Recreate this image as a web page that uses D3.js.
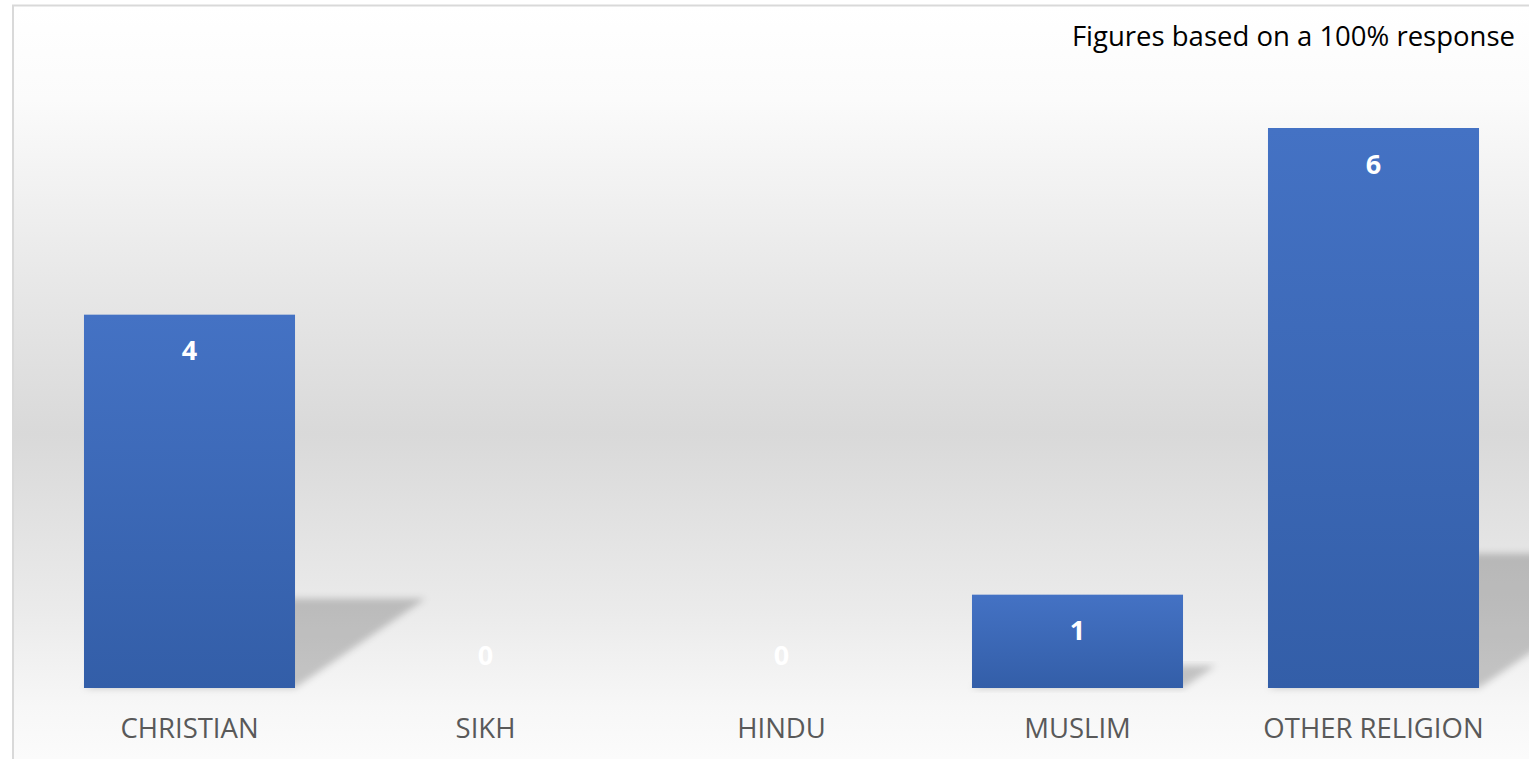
<!DOCTYPE html>
<html>
<head>
<meta charset="utf-8">
<script src="https://cdn.jsdelivr.net/npm/d3@7"></script>
<style>
html,body{margin:0;padding:0;background:#fff;}
svg{display:block;}
</style>
</head>
<body>
<svg id="chart" width="1529" height="759"></svg>
<script>
const categories = ["CHRISTIAN", "SIKH", "HINDU", "MUSLIM", "OTHER RELIGION"];
const values = [4, 0, 0, 1, 6];
const note = "Figures based on a 100% response";

const W = 1529, H = 759;
const svg = d3.select("#chart");
const defs = svg.append("defs");

// background gradient
const bg = defs.append("linearGradient").attr("id","bgGrad")
  .attr("x1",0).attr("y1",0).attr("x2",0).attr("y2",1);
[[0,"#ffffff"],[0.12,"#fbfbfb"],[0.3,"#ececec"],[0.55,"#d9d9d9"],[0.78,"#ebebeb"],[0.9,"#f7f7f7"],[1,"#fdfdfd"]]
  .forEach(([o,c])=>bg.append("stop").attr("offset",o).attr("stop-color",c));

const barGrad = defs.append("linearGradient").attr("id","barGrad")
  .attr("x1",0).attr("y1",0).attr("x2",0).attr("y2",1);
barGrad.append("stop").attr("offset",0).attr("stop-color","#4472c4");
barGrad.append("stop").attr("offset",1).attr("stop-color","#335ea8");

const blur = defs.append("filter").attr("id","shBlur")
  .attr("x","-20%").attr("y","-20%").attr("width","140%").attr("height","140%");
blur.append("feGaussianBlur").attr("stdDeviation",3.5);

// frame
svg.append("rect").attr("x",13).attr("y",5.5).attr("width",W+20).attr("height",H+20)
  .attr("fill","url(#bgGrad)").attr("stroke","#d9d9d9").attr("stroke-width",2);

const x = d3.scaleBand().domain(categories).range([41.5, 1521.5])
  .paddingInner(0.287).paddingOuter(0.1435);
const y = d3.scaleLinear().domain([0, 6]).range([688, 128]);

const data = categories.map((c,i)=>({cat:c, v:values[i]}));

// shadows (perspective)
svg.append("g").selectAll("path").data(data.filter(d=>d.v>0)).join("path")
  .attr("d", d=>{
    const xl = x(d.cat), xr = xl + x.bandwidth(), yb = y(0);
    const h = y(0) - y(d.v);
    const dx = 0.35*h, hs = 0.24*h;
    return `M${xl},${yb}L${xr},${yb}L${xr+dx},${yb-hs}L${xl+dx},${yb-hs}Z`;
  })
  .attr("fill","#000").attr("fill-opacity",0.2).attr("filter","url(#shBlur)");

// bars
svg.append("g").selectAll("rect").data(data).join("rect")
  .attr("x", d=>x(d.cat)).attr("width", x.bandwidth())
  .attr("y", d=>y(d.v)).attr("height", d=>y(0)-y(d.v))
  .attr("fill","url(#barGrad)");

// value labels
svg.append("g").selectAll("text").data(data).join("text")
  .attr("x", d=>x(d.cat)+x.bandwidth()/2)
  .attr("y", d=>Math.min(y(d.v)+36, y(0)-33))
  .attr("dy","0.36em")
  .attr("text-anchor","middle")
  .attr("font-family","'Open Sans', sans-serif")
  .attr("font-weight","bold").attr("font-size",27)
  .attr("fill","#ffffff")
  .text(d=>d.v);

// category axis
const xAxis = d3.axisBottom(x).tickSize(0).tickPadding(0);
const gx = svg.append("g").attr("transform",`translate(0,${y(0)})`).call(xAxis);
gx.select(".domain").remove();
gx.selectAll("text")
  .attr("y", 50).attr("dy", 0)
  .attr("font-family","'Open Sans', sans-serif")
  .attr("font-size",27.5).attr("fill","#595959");

// note
svg.append("text").attr("x",1515).attr("y",46)
  .attr("text-anchor","end")
  .attr("font-family","'Open Sans', sans-serif")
  .attr("font-size",27.5).attr("fill","#000")
  .text(note);
</script>
</body>
</html>
